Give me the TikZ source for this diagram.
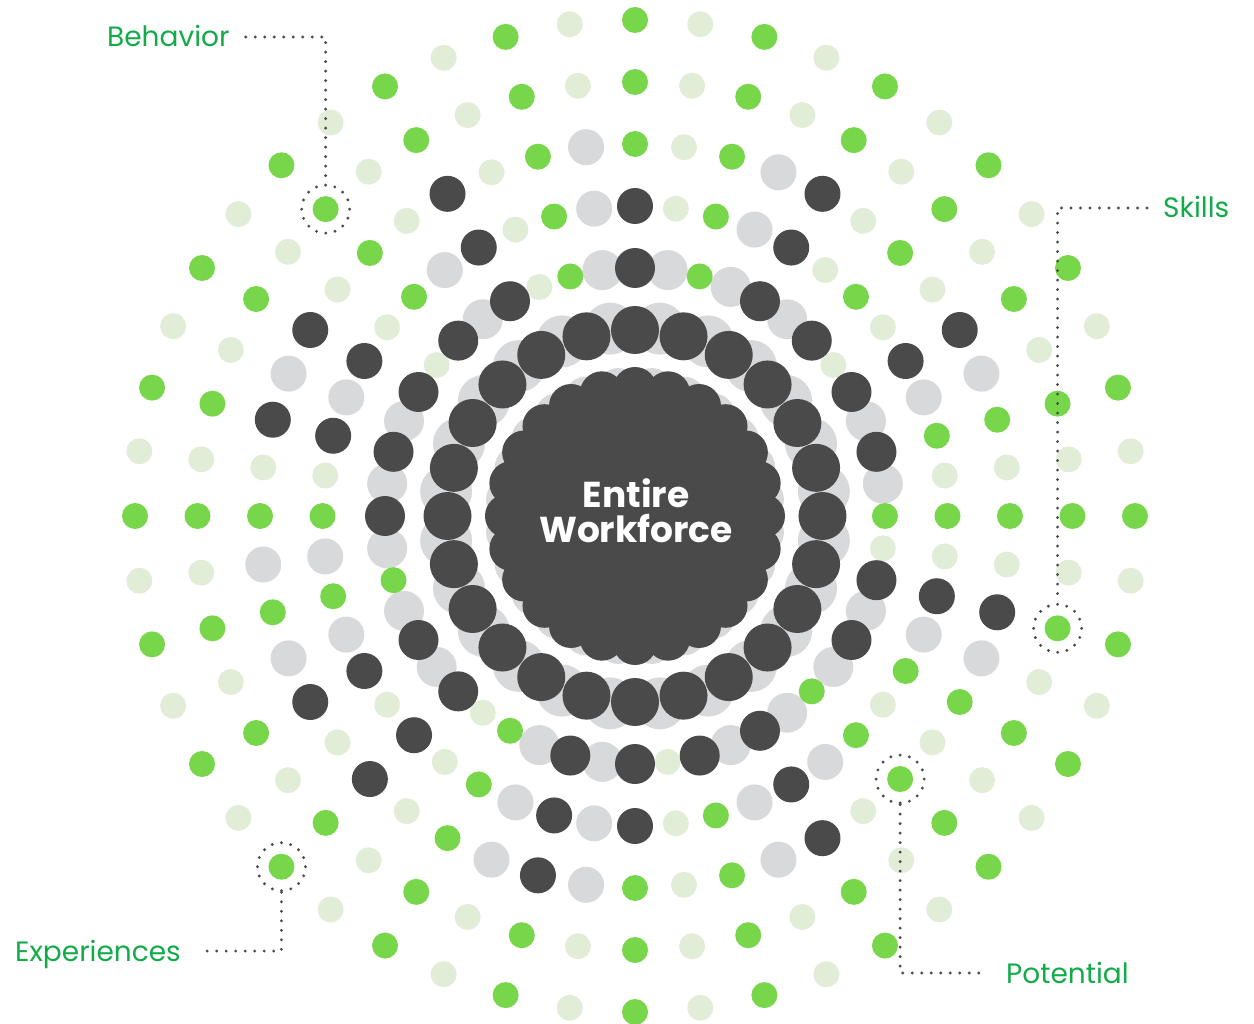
\documentclass[tikz,border=0pt]{standalone}
\usepackage{fontspec}
\setmainfont{Poppins}
\usetikzlibrary{positioning}
\definecolor{darkdot}{HTML}{4A4A4A}
\definecolor{greydot}{HTML}{D8D9DB}
\definecolor{greendot}{HTML}{78D64B}
\definecolor{lightdot}{HTML}{E1EDD7}
\definecolor{labelgreen}{HTML}{13AB4A}
\newcommand\ringpt[2]{({635+1.008*#1*sin(#2)},{516-#1*cos(#2)})}

\begin{document}
\begin{tikzpicture}[x=1pt,y=-1pt,
    tag/.style={text=labelgreen,font=\fontsize{28}{32}\selectfont,inner sep=0pt,text height=20pt,text depth=0pt},
    leader/.style={draw=darkdot,line width=3.2pt,line cap=round,dash pattern=on 0pt off 9.5pt},
    marker/.style={circle,minimum size=48pt,inner sep=0pt,draw=darkdot,line width=3.2pt,line cap=round,dash pattern=on 0pt off 9.42pt}]
\useasboundingbox (0,0) rectangle (1254,1024);

% inner ring, grey layer
\foreach \k in {0,...,23}
  \fill[greydot] \ringpt{189}{7.5+15*\k} circle [radius=26pt];
\draw[white,line width=8pt] (635,516) circle [radius=155pt];

% core
\foreach \k in {0,...,23}
  \fill[greydot] \ringpt{127}{7.5+15*\k} circle [radius=22pt];
\fill[darkdot] (635,516) circle [radius=130pt];
\foreach \k in {0,...,23}
  \fill[darkdot] \ringpt{127}{15*\k} circle [radius=22pt];
\foreach \k in {0,...,23}
  \fill[darkdot] \ringpt{186}{15*\k} circle [radius=24pt];

% rings 2-4
\foreach \r/\s/\ks in {248/20/{1,3,5,9,11,15,17,19,21,25,27,31,33,35,37,39,43,47},
                       310/18/{3,9,15,19,21,25,27,33,35,39,43,47},
                       372/18/{3,9,15,21,25,27,33,35,39,47}}
  \foreach \k in \ks
    \fill[greydot] \ringpt{\r}{7.5*\k} circle [radius=\s pt];
\foreach \r/\ks in {248/{7,13,23,29,41,45},
                    310/{1,5,7,11,13,17,23,29,31,37,41,45},
                    372/{1,5,7,11,13,17,19,23,29,31,37,41,43,45}}
  \foreach \k in \ks
    \fill[lightdot] \ringpt{\r}{7.5*\k} circle [radius=13pt];
\foreach \r/\ks in {248/{2,12,18,28,34,46},
                    310/{2,6,10,12,16,18,22,28,34,36,42,46},
                    372/{0,2,6,10,12,16,18,22,24,28,34,36,42,46}}
  \foreach \k in \ks
    \fill[greendot] \ringpt{\r}{7.5*\k} circle [radius=13pt];
\foreach \r/\s/\ks in {248/20/{0,4,6,8,10,14,16,20,22,24,26,30,32,36,38,40,42,44},
                       310/18/{0,4,8,14,20,24,26,30,32,38,40,44},
                       372/18/{4,8,14,20,26,30,32,38,40,44}}
  \foreach \k in \ks
    \fill[darkdot] \ringpt{\r}{7.5*\k} circle [radius=\s pt];

% outer rings
\foreach \r in {434,496}{
  \foreach \k in {1,3,...,47}
    \fill[lightdot] \ringpt{\r}{7.5*\k} circle [radius=13pt];
  \foreach \k in {0,2,...,46}
    \fill[greendot] \ringpt{\r}{7.5*\k} circle [radius=13pt];
}

\node[text=white,font=\bfseries\fontsize{36}{35}\selectfont,align=center] (core) at (636,511) {Entire\\Workforce};

% labels
\node[marker] (bmark) at \ringpt{434}{315} {};
\node[marker] (smark) at \ringpt{434}{105} {};
\node[marker] (pmark) at \ringpt{372}{135} {};
\node[marker] (emark) at \ringpt{496}{225} {};

\node[tag,anchor=base west] (behav) at (107,47) {Behavior};
\node[tag,anchor=base west] (skill) at (1163,218) {Skills};
\node[tag,anchor=base west] (poten) at (1006,983) {Potential};
\node[tag,anchor=base west] (exper) at (15,961) {Experiences};

\draw[leader] ([xshift=16pt]behav.east) -| (bmark.north);
\draw[leader] ([xshift=-16pt]skill.west) -| (smark.north);
\draw[leader] (pmark.south) |- ([xshift=-18pt]poten.west);
\draw[leader] (emark.south) |- ([xshift=22pt]exper.east);
\end{tikzpicture}
\end{document}
